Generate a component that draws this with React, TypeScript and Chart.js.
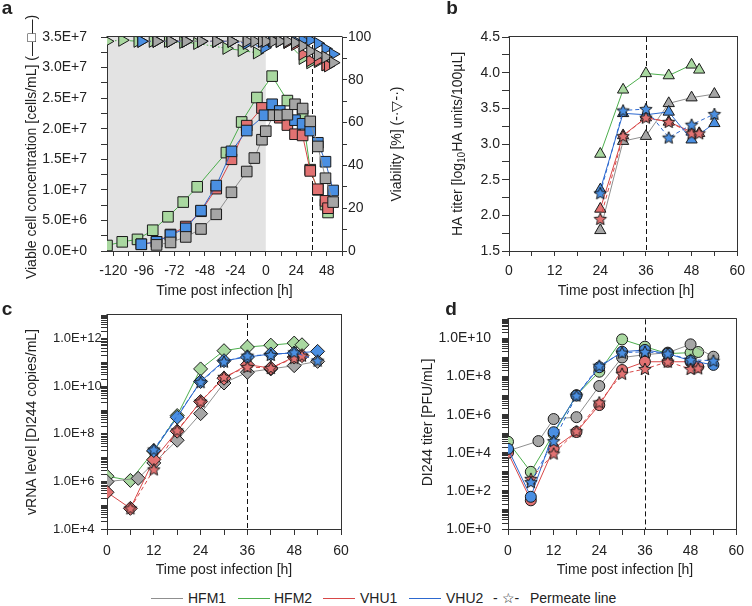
import React, { useEffect, useRef } from 'react';
import { Chart, registerables } from 'chart.js';
Chart.register(...registerables);

const FONT = '"Liberation Sans", Arial, Helvetica, sans-serif';
const TXT = '#222';
const AX = '#333';

const COL = {
  hfm1: { line: '#8f8f8f', fill: '#a6a6a6' },
  hfm2: { line: '#4cae4c', fill: '#a9d8a0' },
  vhu1: { line: '#d84848', fill: '#e27272' },
  vhu2: { line: '#2c68cf', fill: '#4a8fe2' },
};

// ---------- Panel a : viable cell concentration & viability ----------
const aTimeHFM1 = [-86, -75, -63, -51, -39, -27, -15, -9, -3, 0, 6, 11, 17, 23, 29, 35, 41, 47, 53];
const aVccHFM1 = [1.0e6, 1.4e6, 2.3e6, 3.6e6, 6.0e6, 9.6e6, 13.0e6, 15.2e6, 18.2e6, 19.6e6, 22.2e6, 22.2e6, 22.3e6, 24.0e6, 23.3e6, 21.2e6, 17.1e6, 11.9e6, 8.0e6];
const aViaHFM1 = [98, 98, 98, 98, 98, 98, 98, 98, 98, 98, 98, 98, 98, 97.3, 95.8, 93.4, 91.5, 90.6, 88];

const aTimeHFM2 = [-125, -113, -101, -89, -77, -65, -54, -31, -19, -7, 5, 17, 29, 35, 41, 47, 49];
const aVccHFM2 = [0.9e6, 1.5e6, 1.9e6, 3.4e6, 5.6e6, 8.0e6, 10.5e6, 16.1e6, 21.1e6, 25.1e6, 28.6e6, 24.6e6, 22.2e6, 13.3e6, 10.0e6, 7.6e6, 6.3e6];
const aViaHFM2 = [98, 98.5, 98, 98, 98, 97.5, 97, 94.7, 93.7, 92.6, 98.5, 97.5, 90, 88, 88.5, 87, 87];

const aTimeVHU1 = [-98, -86, -75, -63, -51, -39, -27, -15, -3, 5, 11, 17, 23, 29, 35, 41, 47, 49];
const aVccVHU1 = [1.1e6, 1.5e6, 2.7e6, 4.0e6, 6.5e6, 10.2e6, 15.0e6, 20.5e6, 23.4e6, 22.8e6, 21.8e6, 20.6e6, 19.1e6, 18.9e6, 13.1e6, 10.1e6, 8.2e6, 7.0e6];
const aViaVHU1 = [98, 98, 98, 98, 98, 98, 98, 97.5, 98, 98, 98, 97.5, 96.5, 92, 89, 89, 87, 86.5];

const aTimeVHU2 = [-98, -86, -75, -63, -51, -39, -27, -15, -1, 5, 11, 23, 29, 35, 41, 47, 53];
const aVccVHU2 = [1.1e6, 1.5e6, 2.6e6, 3.7e6, 6.6e6, 10.7e6, 16.3e6, 19.7e6, 22.2e6, 24.0e6, 22.9e6, 21.4e6, 20.8e6, 19.7e6, 17.7e6, 14.6e6, 9.9e6];
const aViaVHU2 = [98, 98, 98, 98, 98, 98, 98, 97, 95, 98, 98, 98, 98.5, 98.5, 97, 94.5, 92];

const aXTicks = [-120, -108, -96, -84, -72, -60, -48, -36, -24, -12, 0, 12, 24, 36, 48, 60];
const aXLabels = [-120, -96, -72, -48, -24, 0, 24, 48];
const aYTicks = [0, 2.5e6, 5e6, 7.5e6, 1e7, 1.25e7, 1.5e7, 1.75e7, 2e7, 2.25e7, 2.5e7, 2.75e7, 3e7, 3.25e7, 3.5e7];
const aYLabels = [0, 5e6, 1e7, 1.5e7, 2e7, 2.5e7, 3e7, 3.5e7];
const aY2Ticks = [0, 10, 20, 30, 40, 50, 60, 70, 80, 90, 100];
const aY2Labels = [0, 20, 40, 60, 80, 100];

// ---------- Panel b : HA titer ----------
const bTimeHFM1 = [24, 30, 36, 42, 48, 54];
const bHaHFM1 = [1.79, 3.04, 3.11, 3.57, 3.65, 3.70];
const bTimeHFM2 = [24, 30, 36, 42, 48, 50];
const bHaHFM2 = [2.86, 3.76, 3.99, 3.96, 4.11, 4.04];
const bTimeVHU1 = [24, 30, 36, 42, 48, 50];
const bHaVHU1 = [2.09, 3.12, 3.37, 3.31, 3.17, 3.15];
const bTimeVHU2 = [24, 30, 36, 42, 48, 54];
const bHaVHU2 = [2.36, 3.43, 3.41, 3.45, 3.06, 3.29];
const bTimeVHU1P = [24, 30, 36, 42, 48, 50];
const bHaVHU1P = [1.95, 3.11, 3.37, 3.31, 3.15, 3.15];
const bTimeVHU2P = [24, 30, 36, 42, 48, 54];
const bHaVHU2P = [2.31, 3.47, 3.49, 3.09, 3.27, 3.42];

const hXTicks = [0, 6, 12, 18, 24, 30, 36, 42, 48, 54, 60];
const hXLabels = [0, 12, 24, 36, 48, 60];
const bYTicks = [1.5, 1.75, 2, 2.25, 2.5, 2.75, 3, 3.25, 3.5, 3.75, 4, 4.25, 4.5];
const bYLabels = [1.5, 2, 2.5, 3, 3.5, 4, 4.5];

// ---------- Panel c : vRNA level ----------
const cTimeHFM1 = [0, 8, 12, 18, 24, 30, 36, 42, 48, 54];
const cRnaHFM1 = [9.8e5, 1.35e6, 6.0e6, 5.4e7, 7.1e8, 1.38e10, 3.9e10, 5.4e10, 7.4e10, 1.12e11];
const cTimeHFM2 = [0, 6, 12, 18, 24, 30, 36, 42, 48, 50];
const cRnaHFM2 = [1.66e6, 1.1e6, 1.86e7, 5.9e8, 5.4e10, 3.16e11, 4.5e11, 5.4e11, 6.6e11, 5.6e11];
const cTimeVHU1 = [0, 6, 12, 18, 24, 30, 36, 42, 48, 50];
const cRnaVHU1 = [3.5e5, 7.4e4, 8.3e6, 1.3e8, 2.3e9, 2.2e10, 8.1e10, 5.9e10, 1.7e11, 1.95e11];
const cTimeVHU2 = [12, 18, 24, 30, 36, 42, 48, 54];
const cRnaVHU2 = [2.0e7, 5.0e8, 1.6e10, 1.2e11, 1.7e11, 2.3e11, 2.5e11, 2.95e11];
const cTimeVHU1P = [6, 12, 18, 24, 30, 36, 42, 48, 50];
const cRnaVHU1P = [7.4e4, 3.2e6, 1.4e8, 2.3e9, 2.5e10, 6.5e10, 5.9e10, 1.55e11, 1.95e11];
const cTimeVHU2P = [12, 24, 30, 36, 42, 48, 54];
const cRnaVHU2P = [2.2e7, 1.5e10, 1.1e11, 1.95e11, 2.1e11, 2.7e11, 1.2e11];
const cYLabels = [1e4, 1e6, 1e8, 1e10, 1e12];

// ---------- Panel d : DI244 titer ----------
const dTimeHFM1 = [0, 8, 12, 18, 24, 30, 36, 42, 48, 54];
const dPfuHFM1 = [1.26e4, 4.1e4, 5.9e5, 7.4e5, 3.2e7, 1.0e9, 1.4e9, 1.8e9, 4.9e9, 1.1e9];
const dTimeHFM2 = [0, 6, 12, 18, 24, 30, 36, 42, 48, 50];
const dPfuHFM2 = [3.8e4, 1.0e3, 1.0e5, 1.05e7, 1.8e8, 8.9e9, 3.7e9, 1.6e9, 1.8e9, 1.95e9];
const dTimeVHU1 = [0, 6, 12, 18, 24, 30, 36, 42, 48, 50];
const dPfuVHU1 = [1.0e4, 32, 1.7e4, 1.23e5, 3.2e6, 2.2e8, 6.0e8, 6.0e8, 6.0e8, 3.3e8];
const dTimeVHU2 = [0, 6, 12, 18, 24, 30, 36, 42, 48, 54];
const dPfuVHU2 = [1.6e4, 49, 1.2e5, 1.0e7, 3.1e8, 2.0e9, 2.5e9, 1.6e9, 6.8e8, 4.1e8];
const dTimeVHU1P = [6, 12, 18, 24, 30, 36, 42, 48, 50];
const dPfuVHU1P = [430, 9.1e3, 1.35e5, 4.4e6, 1.4e8, 2.5e8, 6.0e8, 2.5e8, 2.7e8];
const dTimeVHU2P = [6, 12, 18, 24, 30, 36, 42, 48, 54];
const dPfuVHU2P = [290, 4.1e4, 1.0e7, 3.7e8, 1.8e9, 2.0e9, 1.6e9, 7.6e8, 6.8e8];
const dYLabels = [1, 1e2, 1e4, 1e6, 1e8, 1e10];

const INFECTION_SHADE_END = 0;
const HARVEST_LINE = 36;

// ---------- helpers ----------
const font = (size: number, bold = false) => `${bold ? 'bold ' : ''}${size}px ${FONT}`;

function fmtE(v: number) {
  if (v === 0) return '0.0E+0';
  const e = Math.floor(Math.log10(v) + 1e-9);
  const m = v / Math.pow(10, e);
  return `${m.toFixed(1)}E+${e}`;
}

function starImage(fill: string, r: number) {
  const size = Math.ceil(2 * r + 3);
  const c = document.createElement('canvas');
  c.width = size;
  c.height = size;
  const ctx = c.getContext('2d')!;
  const cx = size / 2, cy = size / 2 + 0.5;
  ctx.beginPath();
  for (let i = 0; i < 10; i++) {
    const rad = i % 2 === 0 ? r : r * 0.45;
    const a = -Math.PI / 2 + (i * Math.PI) / 5;
    ctx.lineTo(cx + rad * Math.cos(a), cy + rad * Math.sin(a));
  }
  ctx.closePath();
  ctx.fillStyle = fill;
  ctx.fill();
  ctx.strokeStyle = '#1a1a1a';
  ctx.lineWidth = 1;
  ctx.stroke();
  return c;
}

function series(xs: number[], ys: number[], col: { line: string; fill: string }, style: any, radius: number, extra: any = {}) {
  return {
    data: xs.map((x, i) => ({ x, y: ys[i] })),
    borderColor: col.line,
    backgroundColor: col.fill,
    borderWidth: 1,
    pointStyle: style,
    pointRadius: radius,
    pointHoverRadius: radius,
    pointBackgroundColor: col.fill,
    pointBorderColor: '#1a1a1a',
    pointBorderWidth: 1,
    tension: 0,
    fill: false,
    ...extra,
  };
}

function xAxis(min: number, max: number, ticks: number[], labels: number[], height: number, tickLen: number, pad: number) {
  return {
    type: 'linear',
    position: 'bottom',
    min,
    max,
    afterBuildTicks: (s: any) => { s.ticks = ticks.map((v) => ({ value: v })); },
    afterFit: (s: any) => { s.height = height; },
    ticks: {
      autoSkip: false, maxRotation: 0, minRotation: 0, padding: pad, color: TXT,
      font: { family: FONT, size: 14 },
      callback: (v: number) => (labels.includes(v) ? String(v) : ''),
    },
    grid: { drawOnChartArea: false, drawTicks: true, tickLength: tickLen, tickColor: AX, tickWidth: 1 },
    border: { display: true, color: AX, width: 1 },
  };
}

function yAxis(opts: any) {
  const { type = 'linear', position = 'left', min, max, ticks, labels, width, tickLen, pad, fmt, size = 14, crossAlign = 'near' } = opts;
  return {
    type,
    position,
    min,
    max,
    afterBuildTicks: (s: any) => { s.ticks = ticks.map((v: number) => ({ value: v })); },
    afterFit: (s: any) => { s.width = width; },
    ticks: {
      autoSkip: false, padding: pad, color: TXT, crossAlign,
      font: { family: FONT, size },
      callback: (v: number) => (labels.includes(v) ? fmt(v) : ''),
    },
    grid: { drawOnChartArea: false, drawTicks: true, tickLength: tickLen, tickColor: AX, tickWidth: 1 },
    border: { display: true, color: AX, width: 1 },
  };
}

function logTicks(minExp: number, maxExp: number) {
  const out: number[] = [];
  for (let e = minExp; e < maxExp; e++) {
    for (let k = 1; k <= 9; k++) out.push(k * Math.pow(10, e));
  }
  out.push(Math.pow(10, maxExp));
  return out;
}

function drawText(ctx: CanvasRenderingContext2D, text: string, x: number, y: number, rot = 0, size = 14, bold = false) {
  ctx.save();
  ctx.translate(x, y);
  ctx.rotate(rot);
  ctx.font = font(size, bold);
  ctx.fillStyle = TXT;
  ctx.textAlign = 'center';
  ctx.textBaseline = 'middle';
  ctx.fillText(text, 0, 0);
  ctx.restore();
}

function decor(cfg: { shade?: number; vline?: number; frameTop?: boolean; frameRight?: boolean; texts: (ctx: CanvasRenderingContext2D) => void }) {
  return {
    id: 'decor',
    beforeDraw(chart: any) {
      if (cfg.shade === undefined) return;
      const { ctx, chartArea: a, scales } = chart;
      const x1 = scales.x.getPixelForValue(cfg.shade);
      ctx.save();
      ctx.fillStyle = '#e3e3e3';
      ctx.fillRect(a.left, a.top, x1 - a.left, a.bottom - a.top);
      ctx.restore();
    },
    beforeDatasetsDraw(chart: any) {
      if (cfg.vline === undefined) return;
      const { ctx, chartArea: a, scales } = chart;
      const x = Math.round(scales.x.getPixelForValue(cfg.vline)) + 0.5;
      ctx.save();
      ctx.strokeStyle = '#111';
      ctx.lineWidth = 1;
      ctx.setLineDash([5, 3]);
      ctx.beginPath();
      ctx.moveTo(x, a.top);
      ctx.lineTo(x, a.bottom);
      ctx.stroke();
      ctx.restore();
    },
    afterDraw(chart: any) {
      const { ctx, chartArea: a } = chart;
      ctx.save();
      ctx.strokeStyle = AX;
      ctx.lineWidth = 1;
      ctx.beginPath();
      if (cfg.frameTop) {
        const y = Math.round(a.top) - 0.5;
        ctx.moveTo(a.left - 0.5, y);
        ctx.lineTo(a.right + 0.5, y);
      }
      if (cfg.frameRight) {
        const x = Math.round(a.right) + 0.5;
        ctx.moveTo(x, a.top - 1);
        ctx.lineTo(x, a.bottom);
      }
      ctx.stroke();
      ctx.restore();
      cfg.texts(ctx);
    },
  };
}

const common = {
  responsive: false,
  animation: false,
  devicePixelRatio: 1,
  events: [],
  plugins: { legend: { display: false }, tooltip: { enabled: false } },
};

// ---------- chart builders ----------
function buildA() {
  const vDash = [6, 2, 1.5, 2];
  const tri = 'triangle';
  return {
    type: 'line',
    data: {
      datasets: [
        series(aTimeHFM1, aVccHFM1, COL.hfm1, 'rect', 7.5, { yAxisID: 'y' }),
        series(aTimeVHU2, aVccVHU2, COL.vhu2, 'rect', 7.5, { yAxisID: 'y' }),
        series(aTimeVHU1, aVccVHU1, COL.vhu1, 'rect', 7.5, { yAxisID: 'y' }),
        series(aTimeHFM2, aVccHFM2, COL.hfm2, 'rect', 7.5, { yAxisID: 'y' }),
        series(aTimeHFM1, aViaHFM1, COL.hfm1, tri, 7, { yAxisID: 'y2', pointRotation: 90, borderDash: vDash }),
        series(aTimeVHU2, aViaVHU2, COL.vhu2, tri, 7, { yAxisID: 'y2', pointRotation: 90, borderDash: vDash }),
        series(aTimeVHU1, aViaVHU1, COL.vhu1, tri, 7, { yAxisID: 'y2', pointRotation: 90, borderDash: vDash }),
        series(aTimeHFM2, aViaHFM2, COL.hfm2, tri, 7, { yAxisID: 'y2', pointRotation: 90, borderDash: vDash }),
      ],
    },
    options: {
      ...common,
      layout: { padding: { top: 37, left: 0, right: 0, bottom: 0 } },
      scales: {
        x: xAxis(-125, 60, aXTicks, aXLabels, 49, 5, 7),
        y: yAxis({ min: 0, max: 3.5e7, ticks: aYTicks, labels: aYLabels, width: 107, tickLen: 6, pad: 14, fmt: fmtE }),
        y2: yAxis({ position: 'right', min: 0, max: 100, ticks: aY2Ticks, labels: aY2Labels, width: 78, tickLen: 5, pad: 1, fmt: (v: number) => String(v) }),
      },
    },
    plugins: [
      decor({
        shade: INFECTION_SHADE_END,
        vline: HARVEST_LINE,
        frameTop: true,
        texts: (ctx) => {
          drawText(ctx, 'Viable cell concentration [cells/mL] (\u2014\u25a1\u2014)', 32, 147, -Math.PI / 2);
          drawText(ctx, 'Viability [%] (-\u00b7\u25bd-\u00b7)', 397, 144, -Math.PI / 2);
          drawText(ctx, 'Time post infection [h]', 224.5, 291);
          drawText(ctx, 'a', 7, 9, 0, 19, true);
        },
      }),
    ],
  };
}

function buildB() {
  const starR = starImage(COL.vhu1.fill, 6.5);
  const starB = starImage(COL.vhu2.fill, 6.5);
  const pd = [4, 3];
  return {
    type: 'line',
    data: {
      datasets: [
        series(bTimeVHU2P, bHaVHU2P, COL.vhu2, starB, 6.5, { borderDash: pd }),
        series(bTimeVHU1P, bHaVHU1P, COL.vhu1, starR, 6.5, { borderDash: pd }),
        series(bTimeVHU2, bHaVHU2, COL.vhu2, 'triangle', 6.5),
        series(bTimeVHU1, bHaVHU1, COL.vhu1, 'triangle', 6.5),
        series(bTimeHFM1, bHaHFM1, COL.hfm1, 'triangle', 6.5),
        series(bTimeHFM2, bHaHFM2, COL.hfm2, 'triangle', 6.5),
      ],
    },
    options: {
      ...common,
      layout: { padding: { top: 37, left: 0, right: 9, bottom: 0 } },
      scales: {
        x: xAxis(0, 60, hXTicks, hXLabels, 49, 5, 7),
        y: yAxis({ min: 1.5, max: 4.5, ticks: bYTicks, labels: bYLabels, width: 133, tickLen: 7, pad: 2, fmt: (v: number) => v.toFixed(1) }),
      },
    },
    plugins: [
      decor({
        vline: HARVEST_LINE,
        frameTop: true,
        frameRight: true,
        texts: (ctx) => {
          ctx.save();
          ctx.translate(82, 144);
          ctx.rotate(-Math.PI / 2);
          ctx.fillStyle = TXT;
          ctx.textBaseline = 'middle';
          const p1 = 'HA titer [log';
          const p2 = '10';
          const p3 = 'HA units/100\u00b5L]';
          ctx.font = font(14);
          const w1 = ctx.measureText(p1).width;
          const w3 = ctx.measureText(p3).width;
          ctx.font = font(10);
          const w2 = ctx.measureText(p2).width;
          let x = -(w1 + w2 + w3) / 2;
          ctx.textAlign = 'left';
          ctx.font = font(14);
          ctx.fillText(p1, x, 0);
          x += w1;
          ctx.font = font(10);
          ctx.fillText(p2, x, 4);
          x += w2;
          ctx.font = font(14);
          ctx.fillText(p3, x, 0);
          ctx.restore();
          drawText(ctx, 'Time post infection [h]', 250, 291);
          drawText(ctx, 'b', 76, 9, 0, 19, true);
        },
      }),
    ],
  };
}

function buildC() {
  const starR = starImage(COL.vhu1.fill, 6.5);
  const starB = starImage(COL.vhu2.fill, 6.5);
  const pd = [4, 3];
  return {
    type: 'line',
    data: {
      datasets: [
        series(cTimeVHU2P, cRnaVHU2P, COL.vhu2, starB, 6.5, { borderDash: pd }),
        series(cTimeVHU1P, cRnaVHU1P, COL.vhu1, starR, 6.5, { borderDash: pd }),
        series(cTimeVHU2, cRnaVHU2, COL.vhu2, 'rectRot', 7),
        series(cTimeVHU1, cRnaVHU1, COL.vhu1, 'rectRot', 7),
        series(cTimeHFM1, cRnaHFM1, COL.hfm1, 'rectRot', 7),
        series(cTimeHFM2, cRnaHFM2, COL.hfm2, 'rectRot', 7),
      ],
    },
    options: {
      ...common,
      layout: { padding: { top: 15, left: 53, right: 35, bottom: 0 } },
      scales: {
        x: xAxis(0, 60, hXTicks, hXLabels, 51, 6, 8),
        y: yAxis({ type: 'logarithmic', min: 1e4, max: 1e13, ticks: logTicks(4, 13), labels: cYLabels, width: 54, tickLen: 6, pad: 2, fmt: fmtE, size: 13, crossAlign: 'far' }),
      },
    },
    plugins: [
      decor({
        vline: HARVEST_LINE,
        frameTop: true,
        frameRight: true,
        texts: (ctx) => {
          drawText(ctx, 'vRNA level [DI244 copies/mL]', 32, 122, -Math.PI / 2);
          drawText(ctx, 'Time post infection [h]', 224, 270);
          drawText(ctx, 'c', 7, 10, 0, 19, true);
        },
      }),
    ],
  };
}

function buildD() {
  const starR = starImage(COL.vhu1.fill, 6.5);
  const starB = starImage(COL.vhu2.fill, 6.5);
  const pd = [4, 3];
  return {
    type: 'line',
    data: {
      datasets: [
        series(dTimeVHU2P, dPfuVHU2P, COL.vhu2, starB, 6.5, { borderDash: pd }),
        series(dTimeVHU1P, dPfuVHU1P, COL.vhu1, starR, 6.5, { borderDash: pd }),
        series(dTimeVHU2, dPfuVHU2, COL.vhu2, 'circle', 5.5),
        series(dTimeVHU1, dPfuVHU1, COL.vhu1, 'circle', 5.5),
        series(dTimeHFM1, dPfuHFM1, COL.hfm1, 'circle', 5.5),
        series(dTimeHFM2, dPfuHFM2, COL.hfm2, 'circle', 5.5),
      ],
    },
    options: {
      ...common,
      layout: { padding: { top: 15, left: 0, right: 10, bottom: 0 } },
      scales: {
        x: xAxis(0, 60, hXTicks, hXLabels, 51, 6, 8),
        y: yAxis({ type: 'logarithmic', min: 1, max: 1e11, ticks: logTicks(0, 11), labels: dYLabels, width: 132, tickLen: 6, pad: 11, fmt: fmtE }),
      },
    },
    plugins: [
      decor({
        vline: HARVEST_LINE,
        frameTop: true,
        frameRight: true,
        texts: (ctx) => {
          drawText(ctx, 'DI244 titer [PFU/mL]', 52, 122.5, -Math.PI / 2);
          drawText(ctx, 'Time post infection [h]', 249, 270);
          drawText(ctx, 'd', 75, 10, 0, 19, true);
        },
      }),
    ],
  };
}

function Panel({ left, top, width, height, build }: { left: number; top: number; width: number; height: number; build: () => any }) {
  const ref = useRef<HTMLCanvasElement>(null);
  useEffect(() => {
    const chart = new Chart(ref.current as HTMLCanvasElement, build());
    return () => chart.destroy();
  }, []);
  return <canvas ref={ref} width={width} height={height} style={{ position: 'absolute', left, top, width, height }} />;
}

const legendItems = [
  { label: 'HFM1', color: COL.hfm1.line, lineLeft: 151, textLeft: 188 },
  { label: 'HFM2', color: COL.hfm2.line, lineLeft: 238, textLeft: 274 },
  { label: 'VHU1', color: COL.vhu1.line, lineLeft: 323, textLeft: 360 },
  { label: 'VHU2', color: COL.vhu2.line, lineLeft: 409, textLeft: 446 },
];

export default function App() {
  const legendY = 598;
  const txt: React.CSSProperties = { position: 'absolute', font: font(14), color: TXT, lineHeight: '16px', top: legendY - 8, whiteSpace: 'nowrap' };
  return (
    <div style={{ position: 'fixed', left: 0, top: 0, width: 752, height: 606, background: '#fff', overflow: 'hidden' }}>
      <Panel left={0} top={0} width={420} height={300} build={buildA} />
      <Panel left={376} top={0} width={376} height={300} build={buildB} />
      <Panel left={0} top={300} width={376} height={280} build={buildC} />
      <Panel left={376} top={300} width={376} height={280} build={buildD} />
      {legendItems.map((it) => (
        <React.Fragment key={it.label}>
          <div style={{ position: 'absolute', left: it.lineLeft, top: legendY, width: 32, height: 0, borderTop: `1.5px solid ${it.color}` }} />
          <div style={{ ...txt, left: it.textLeft }}>{it.label}</div>
        </React.Fragment>
      ))}
      <div style={{ ...txt, left: 493 }}>- {'\u2606'}-</div>
      <div style={{ ...txt, left: 530 }}>Permeate line</div>
    </div>
  );
}
